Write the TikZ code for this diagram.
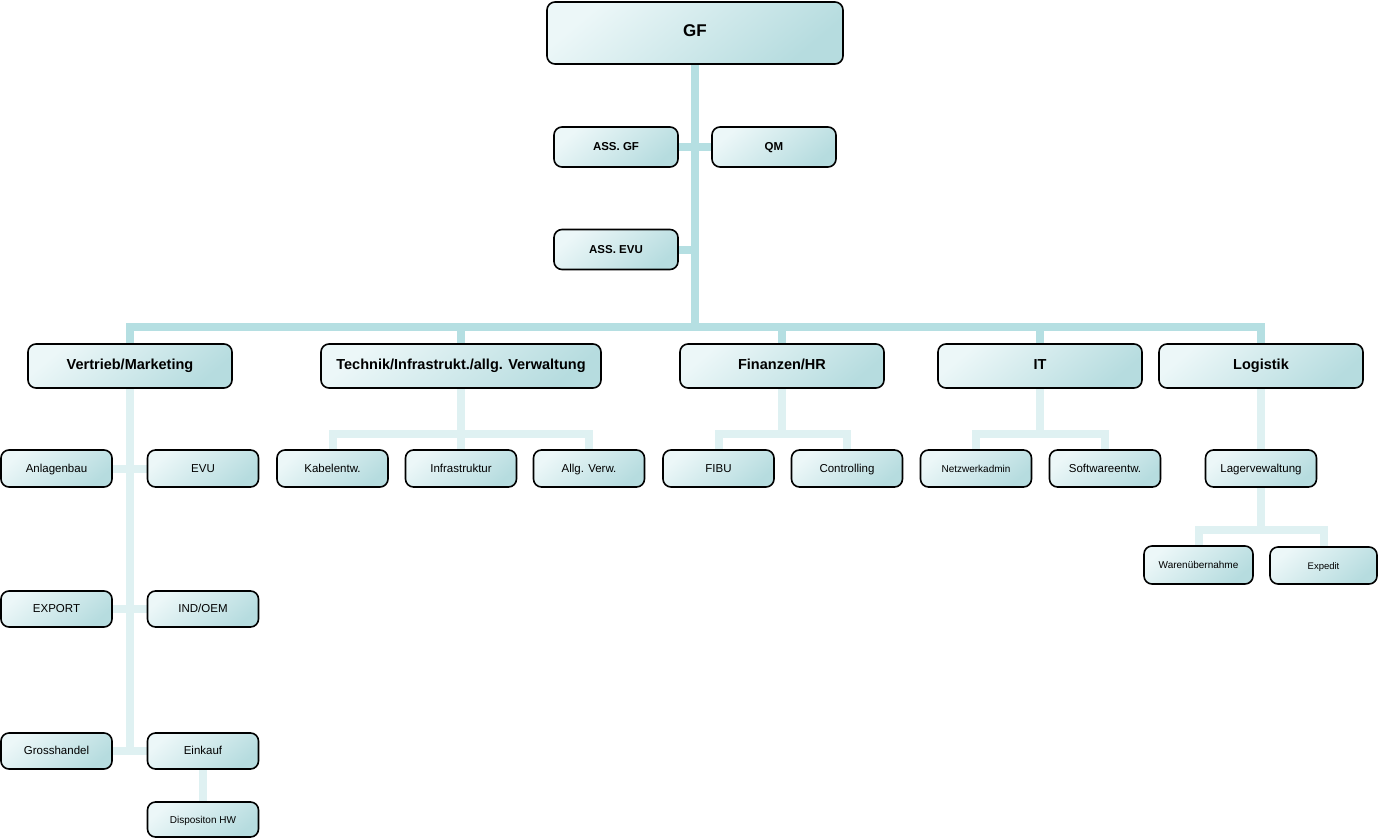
\documentclass[tikz,border=0pt]{standalone}
\usepackage{fontspec}
\setmainfont{Liberation Sans}
\usetikzlibrary{backgrounds}
\definecolor{boxlight}{HTML}{ECF7F8}
\definecolor{boxmid}{HTML}{DCEFF1}
\definecolor{boxdark}{HTML}{B6DCDF}
\definecolor{busdark}{HTML}{B5DFE2}
\definecolor{buslight}{HTML}{DFF1F2}

\begin{document}
\begin{tikzpicture}[
  x=1pt,y=-1pt,
  box/.style={draw,rounded corners=8pt,line width=1.6pt,inner sep=0pt,
    top color=boxlight,middle color=boxmid,bottom color=boxdark,
    shading angle=40,align=center,text height=.72em,text depth=0pt},
  chief/.style={box,minimum width=296pt,minimum height=62pt,font=\bfseries\fontsize{17}{20}\selectfont},
  staff/.style={box,minimum width=124pt,minimum height=40pt,font=\bfseries\fontsize{11.5}{13}\selectfont},
  dept/.style={box,minimum width=204pt,minimum height=44pt,font=\bfseries\fontsize{14.5}{17}\selectfont},
  team/.style={box,minimum width=111pt,minimum height=37pt,font=\fontsize{11.5}{13}\selectfont},
  teamsm/.style={team,font=\fontsize{10}{12}\selectfont},
  bus/.style={line width=8pt,draw=busdark},
  subbus/.style={line width=8pt,draw=buslight}
]
\useasboundingbox (0,0) rectangle (1378,838);

% top
\node[chief] (gf) at (695,33) {GF};
\node[staff] (assgf) at (616,147) {ASS. GF};
\node[staff] (qm) at (774,147) {QM};
\node[staff] (assevu) at (616,249.5) {ASS. EVU};

% departments
\node[dept] (vm) at (130,366) {Vertrieb/Marketing};
\node[dept,minimum width=280pt] (ti) at (461,366) {Technik/Infrastrukt./allg. Verwaltung};
\node[dept] (fh) at (782,366) {Finanzen/HR};
\node[dept] (it) at (1040,366) {IT};
\node[dept] (lo) at (1261,366) {Logistik};

% teams
\node[team] (ab) at (56.5,468.5) {Anlagenbau};
\node[team] (evu) at (203,468.5) {EVU};
\node[team,minimum height=36pt] (exp) at (56.5,609) {EXPORT};
\node[team,minimum height=36pt] (ind) at (203,609) {IND/OEM};
\node[team,minimum height=36pt] (gh) at (56.5,751) {Grosshandel};
\node[team,minimum height=36pt] (ek) at (203,751) {Einkauf};
\node[teamsm,minimum height=35pt] (dhw) at (203,819.5) {Dispositon HW};
\node[team] (ke) at (332.5,468.5) {Kabelentw.};
\node[team] (inf) at (461,468.5) {Infrastruktur};
\node[team] (av) at (589,468.5) {Allg. Verw.};
\node[team] (fibu) at (718.5,468.5) {FIBU};
\node[team] (co) at (847,468.5) {Controlling};
\node[teamsm] (na) at (976,468.5) {Netzwerkadmin};
\node[team] (se) at (1105,468.5) {Softwareentw.};
\node[team] (lv) at (1261,468.5) {Lagervewaltung};
\node[teamsm,minimum width=109pt,minimum height=38pt] (wu) at (1198.5,565) {Warenübernahme};
\node[teamsm,minimum width=107pt,font=\fontsize{9.5}{11}\selectfont] (ex) at (1323.5,565.5) {Expedit};

\coordinate (bar) at (0,327);
\coordinate (sub) at (0,434);
\coordinate (lsub) at (0,530);

\begin{scope}[on background layer]
\draw[bus] (gf) -- (gf |- bar);
\draw[bus] (assgf) -- (qm);
\draw[bus] (assevu) -- (assevu -| gf);
\draw[bus] (vm) -- (vm |- bar) -- (lo |- bar) -- (lo);
\foreach \n in {ti,fh,it}
  \draw[bus] (\n) -- (\n |- bar);

\draw[subbus] (vm) -- (vm |- gh);
\draw[subbus] (ab) -- (evu);
\draw[subbus] (exp) -- (ind);
\draw[subbus] (gh) -- (ek);
\draw[subbus] (ek) -- (dhw);

\draw[subbus] (ti) -- (ti |- sub);
\draw[subbus] (ke) -- (ke |- sub) -- (av |- sub) -- (av);
\draw[subbus] (inf) -- (inf |- sub);
\draw[subbus] (fh) -- (fh |- sub);
\draw[subbus] (fibu) -- (fibu |- sub) -- (co |- sub) -- (co);
\draw[subbus] (it) -- (it |- sub);
\draw[subbus] (na) -- (na |- sub) -- (se |- sub) -- (se);
\draw[subbus] (lo) -- (lv);
\draw[subbus] (lv) -- (lv |- lsub);
\draw[subbus] (wu) -- (wu |- lsub) -- (ex |- lsub) -- (ex);
\end{scope}
\end{tikzpicture}
\end{document}
